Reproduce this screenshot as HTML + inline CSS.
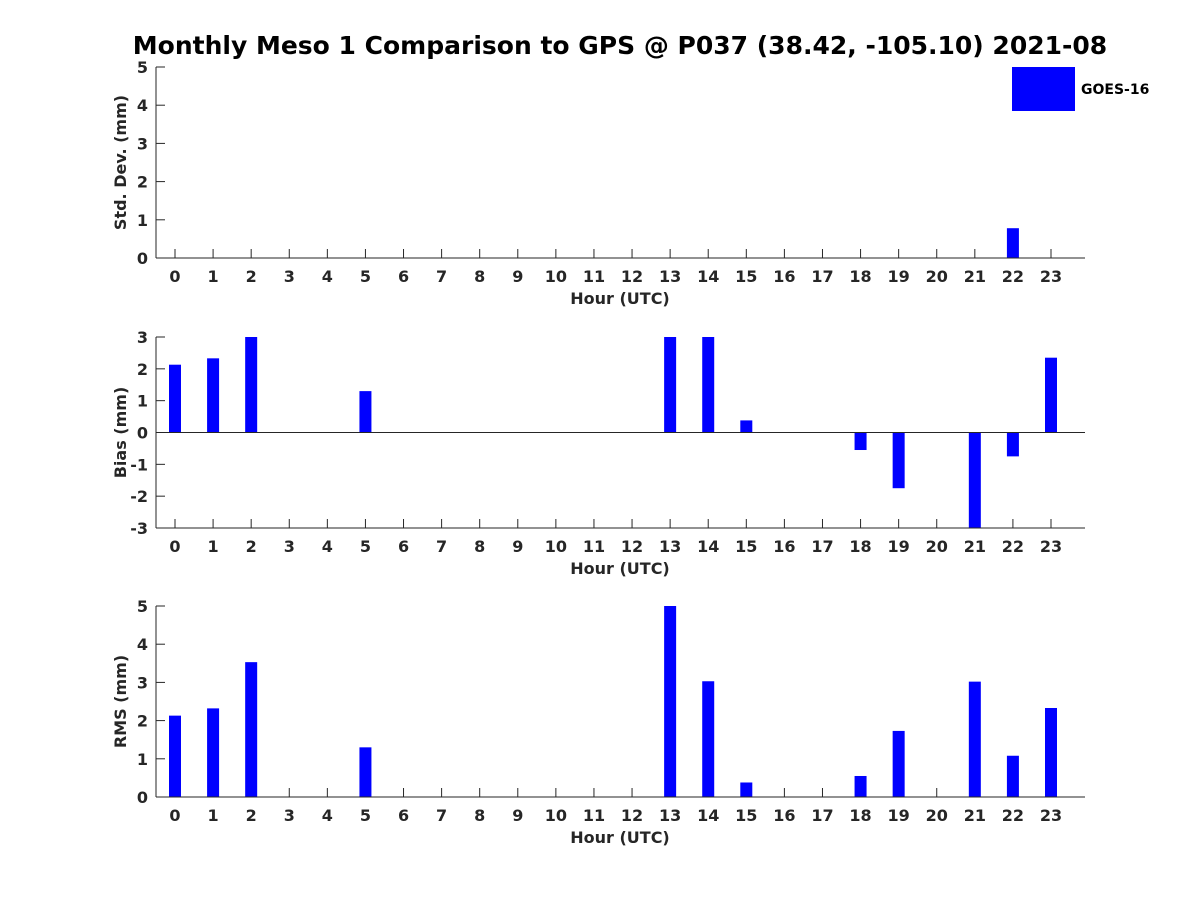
<!DOCTYPE html>
<html><head><meta charset="utf-8"><style>
body{margin:0;background:#fff;}
svg{display:block;font-family:"DejaVu Sans","Liberation Sans",sans-serif;font-weight:bold;}
</style></head><body>
<svg id="chart" width="1200" height="900">
<text x="620" y="54" text-anchor="middle" font-size="25" fill="#000">Monthly Meso 1 Comparison to GPS @ P037 (38.42, -105.10) 2021-08</text>
<g>
<rect x="1012" y="67" width="63" height="44" fill="#0000ff"/>
<text x="1081" y="94" font-size="14" fill="#000">GOES-16</text>
</g>
</svg>
<script>
const hours=[...Array(24).keys()];
const stdVals=[0,0,0,0,0,0,0,0,0,0,0,0,0,0,0,0,0,0,0,0,0,0,0.78,0];
const biasVals=[2.13,2.33,3.0,0,0,1.3,0,0,0,0,0,0,0,3.0,3.0,0.38,0,0,-0.55,-1.75,0,-3.0,-0.75,2.35];
const rmsVals=[2.13,2.32,3.53,0,0,1.3,0,0,0,0,0,0,0,5.0,3.03,0.38,0,0,0.55,1.73,0,3.02,1.08,2.33];
const stdTicks=[0,1,2,3,4,5];
const biasTicks=[-3,-2,-1,0,1,2,3];
const rmsTicks=[0,1,2,3,4,5];
const svg=document.getElementById('chart');
const NS='http://www.w3.org/2000/svg';
const L=156,R=1085;
const xs=h=>175+h*(1051-175)/23;
function mk(tag,attrs){const e=document.createElementNS(NS,tag);for(const k in attrs)e.setAttribute(k,attrs[k]);svg.appendChild(e);return e;}
function panel(key,top,bot,ymin,ymax,ticks,vals,label){
 const ys=v=>bot-(v-ymin)/(ymax-ymin)*(bot-top);
 const z=ys(Math.max(ymin,0));
 hours.forEach(h=>{const x=xs(h);
  mk('line',{x1:x,y1:bot,x2:x,y2:bot-9,stroke:'#262626'});
  const tx=mk('text',{x:x,y:bot+24,'text-anchor':'middle','font-size':16,fill:'#262626'});tx.textContent=h;
  
  });
 vals.forEach((v,i)=>{if(v===0)return;const y0=ys(Math.min(Math.max(v,ymin),ymax));
  const r=mk('rect',{x:xs(hours[i])-6,y:Math.min(y0,z),width:12,height:Math.abs(y0-z),fill:'#0000ff'});
  
  });
 const ax=mk('line',{x1:L,y1:top,x2:L,y2:bot,stroke:'#262626','stroke-width':1});
 
 
 const bx=mk('line',{x1:L,y1:bot,x2:R,y2:bot,stroke:'#262626','stroke-width':1});
 
 
 if(ymin<0){const zl=mk('line',{x1:L,y1:z,x2:R,y2:z,stroke:'#262626','stroke-width':1});
  
  }
 ticks.forEach(t=>{const y=ys(t);
  mk('line',{x1:L,y1:y,x2:L+9,y2:y,stroke:'#262626'});
  const tx=mk('text',{x:L-8,y:y+6,'text-anchor':'end','font-size':16,fill:'#262626'});tx.textContent=t;
  
  });
 const xt=mk('text',{x:620,y:bot+46,'text-anchor':'middle','font-size':16,fill:'#262626'});xt.textContent='Hour (UTC)';
 
 
 const cy=(top+bot)/2;
 const yt=mk('text',{x:0,y:0,transform:`translate(126,${cy}) rotate(-90)`,'text-anchor':'middle','font-size':16,fill:'#262626'});yt.textContent=label;
 
 
}
panel('std',67,258,0,5,stdTicks,stdVals,'Std. Dev. (mm)');
panel('bias',337,528,-3,3,biasTicks,biasVals,'Bias (mm)');
panel('rms',606,797,0,5,rmsTicks,rmsVals,'RMS (mm)');
</script>
</body></html>
